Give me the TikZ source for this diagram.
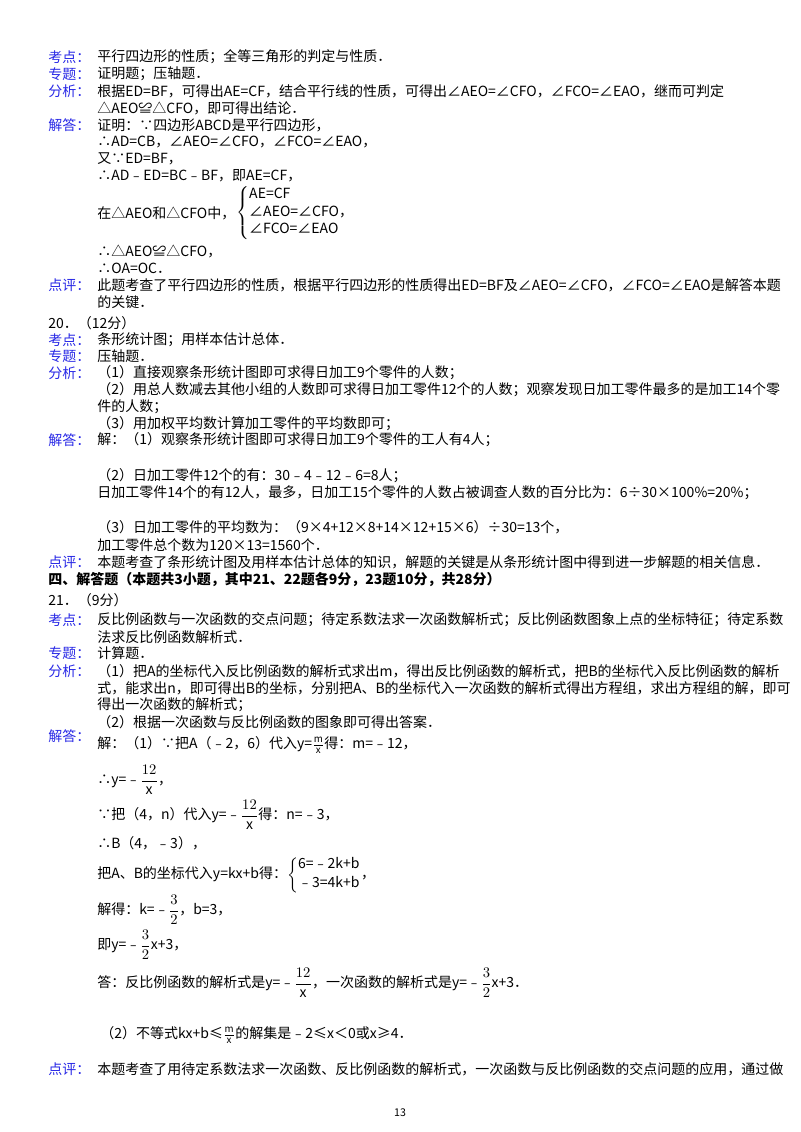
\documentclass[tikz,border=0pt]{standalone}
\usepackage{fontspec}
\setmainfont{Noto Sans CJK SC}
\usepackage{amsmath}
\definecolor{lab}{RGB}{40,40,230}
\begin{document}
\begin{tikzpicture}[x=0.75pt,y=-0.75pt,
  t/.style={anchor=west,inner sep=0pt,font=\fontsize{10.5}{12}\selectfont},
  lb/.style={t,text=lab}]
\useasboundingbox (0,0) rectangle (800,1132);
\fill[white] (0,0) rectangle (800,1132);
% Q19 tail
\node[lb] (l1) at (48,57) {考点：};
\node[t] (a1) at (97,57) {平行四边形的性质；全等三角形的判定与性质．};
\node[lb] (l2) at (48,74) {专题：};
\node[t] (a2) at (97,74) {证明题；压轴题．};
\node[lb] (l3) at (48,91) {分析：};
\node[t] (a3) at (97,91) {根据ED=BF，可得出AE=CF，结合平行线的性质，可得出∠AEO=∠CFO，∠FCO=∠EAO，继而可判定};
\node[t] (a4) at (97,108) {△AEO≌△CFO，即可得出结论．};
\node[lb] (l4) at (48,125) {解答：};
\node[t] (a5) at (97,125) {证明：∵四边形ABCD是平行四边形，};
\node[t] (a6) at (97,142) {∴AD=CB，∠AEO=∠CFO，∠FCO=∠EAO，};
\node[t] (a7) at (97,159) {又∵ED=BF，};
\node[t] (a8) at (97,176) {∴AD﹣ED=BC﹣BF，即AE=CF，};
\node[t] (a9) at (97,213) {在△AEO和△CFO中，};
\node[t] (sys) at (236,213) {$\left\{\begin{array}{@{}l@{}}\text{AE=CF}\\[1pt]\text{∠AEO=∠CFO，}\\[1pt]\text{∠FCO=∠EAO}\end{array}\right.$};
\node[t] (a10) at (97,251) {∴△AEO≌△CFO，};
\node[t] (a11) at (97,268) {∴OA=OC．};
\node[lb] (l5) at (48,285) {点评：};
\node[t] (a12) at (97,285) {此题考查了平行四边形的性质，根据平行四边形的性质得出ED=BF及∠AEO=∠CFO，∠FCO=∠EAO是解答本题};
\node[t] (a13) at (97,302) {的关键．};
% Q20
\node[t] (q20) at (48,323) {20．（12分）};
\node[lb] (l6) at (48,340) {考点：};
\node[t] (b1) at (97,340) {条形统计图；用样本估计总体．};
\node[lb] (l7) at (48,356) {专题：};
\node[t] (b2) at (97,356) {压轴题．};
\node[lb] (l8) at (48,373) {分析：};
\node[t] (b3) at (97,373) {（1）直接观察条形统计图即可求得日加工9个零件的人数；};
\node[t] (b4) at (97,390) {（2）用总人数减去其他小组的人数即可求得日加工零件12个的人数；观察发现日加工零件最多的是加工14个零};
\node[t] (b5) at (97,407) {件的人数；};
\node[t] (b6) at (97,424) {（3）用加权平均数计算加工零件的平均数即可；};
\node[lb] (l9) at (48,440) {解答：};
\node[t] (b7) at (97,440) {解：（1）观察条形统计图即可求得日加工9个零件的工人有4人；};
\node[t] (b8) at (97,476) {（2）日加工零件12个的有：30﹣4﹣12﹣6=8人；};
\node[t] (b9) at (97,493) {日加工零件14个的有12人，最多，日加工15个零件的人数占被调查人数的百分比为：6÷30×100\%=20\%；};
\node[t] (b10) at (97,527) {（3）日加工零件的平均数为：（9×4+12×8+14×12+15×6）÷30=13个，};
\node[t] (b11) at (97,545) {加工零件总个数为120×13=1560个．};
\node[lb] (l10) at (48,562) {点评：};
\node[t] (b12) at (97,562) {本题考查了条形统计图及用样本估计总体的知识，解题的关键是从条形统计图中得到进一步解题的相关信息．};
\node[t,font=\fontsize{10.5}{12}\selectfont\bfseries] (h4) at (48,580) {四、解答题（本题共3小题，其中21、22题各9分，23题10分，共28分）};
% Q21
\node[t] (q21) at (48,600) {21．（9分）};
\node[lb] (l11) at (48,620) {考点：};
\node[t] (c1) at (97,620) {反比例函数与一次函数的交点问题；待定系数法求一次函数解析式；反比例函数图象上点的坐标特征；待定系数};
\node[t] (c2) at (97,637) {法求反比例函数解析式．};
\node[lb] (l12) at (48,653) {专题：};
\node[t] (c3) at (97,653) {计算题．};
\node[lb] (l13) at (48,671) {分析：};
\node[t] (c4) at (97,671) {（1）把A的坐标代入反比例函数的解析式求出m，得出反比例函数的解析式，把B的坐标代入反比例函数的解析};
\node[t] (c5) at (97,688) {式，能求出n，即可得出B的坐标，分别把A、B的坐标代入一次函数的解析式得出方程组，求出方程组的解，即可};
\node[t] (c6) at (97,705) {得出一次函数的解析式；};
\node[t] (c7) at (97,722) {（2）根据一次函数与反比例函数的图象即可得出答案．};
\node[lb] (l14) at (48,736) {解答：};
\node[t] (d1) at (97,745) {解：（1）∵把A（﹣2，6）代入y=$\frac{\text{m}}{\text{x}}$得：m=﹣12，};
\node[t] (d2) at (97,780) {∴y=﹣$\dfrac{12}{\text{x}}$，};
\node[t] (d3) at (97,815) {∵把（4，n）代入y=﹣$\dfrac{12}{\text{x}}$得：n=﹣3，};
\node[t] (d4) at (97,843) {∴B（4，﹣3），};
\node[t] (d5) at (97,875) {把A、B的坐标代入y=kx+b得：$\left\{\begin{array}{@{}l@{}}\text{6=﹣2k+b}\\[2pt]\text{﹣3=4k+b}\end{array}\right.$，};
\node[t] (d6) at (97,910) {解得：k=﹣$\dfrac{3}{2}$，b=3，};
\node[t] (d7) at (97,945) {即y=﹣$\dfrac{3}{2}$x+3，};
\node[t] (d8) at (97,983) {答：反比例函数的解析式是y=﹣$\dfrac{12}{\text{x}}$，一次函数的解析式是y=﹣$\dfrac{3}{2}$x+3．};
\node[t] (d9) at (100,1035) {（2）不等式kx+b≤$\frac{\text{m}}{\text{x}}$的解集是﹣2≤x＜0或x≥4．};
\node[lb] (l15) at (48,1069) {点评：};
\node[t] (d10) at (97,1069) {本题考查了用待定系数法求一次函数、反比例函数的解析式，一次函数与反比例函数的交点问题的应用，通过做};
\node[t,anchor=center,font=\fontsize{8}{10}\selectfont] (pg) at (400,1113) {13};
\end{tikzpicture}
\end{document}
